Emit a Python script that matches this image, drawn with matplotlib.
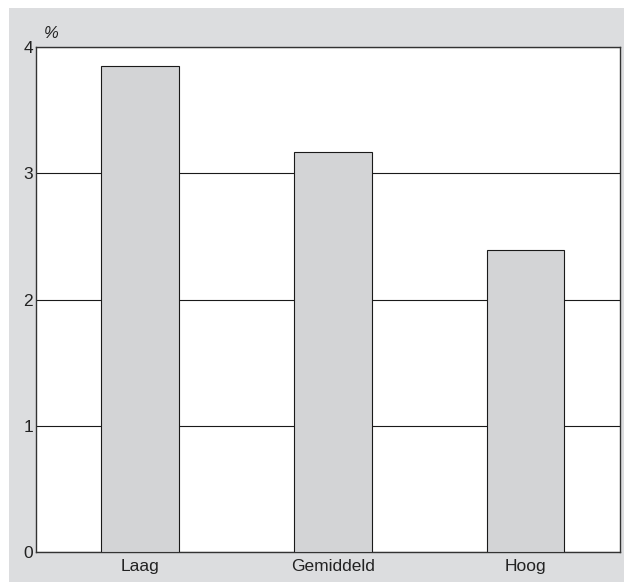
import matplotlib.pyplot as plt
from matplotlib.patches import Rectangle

plt.rcParams["font.family"] = ["Liberation Sans", "DejaVu Sans"]

# data
categories = ["Laag", "Gemiddeld", "Hoog"]
values = [3.85, 3.17, 2.39]
yticks = [0, 1, 2, 3, 4]

W, H = 624, 582
fig = plt.figure(figsize=(W / 100, H / 100), dpi=100)
fig.patch.set_facecolor("white")

# grey panel behind the chart
fig.patches.append(Rectangle((9 / W, 0), 1 - 9 / W, 1 - 8 / H, transform=fig.transFigure,
                             facecolor="#dcdddf", edgecolor="none", zorder=-10))

ax = fig.add_axes([36 / W, 1 - 552 / H, (620 - 36) / W, (552 - 47) / H])
ax.set_facecolor("white")

ax.bar(range(len(categories)), values, width=0.404, color="#d3d4d6",
       edgecolor="#1a1a1a", linewidth=0.8, zorder=3)

ax.set_xlim(-0.54, 2.49)
ax.set_ylim(0, 4)
ax.set_yticks(yticks)
ax.set_xticks(range(len(categories)))
ax.set_xticklabels(categories)
ax.tick_params(length=0, labelsize=12.5, colors="#222222", pad=5)
ax.tick_params(axis="y", pad=2)
ax.grid(axis="y", color="#1a1a1a", linewidth=0.8, zorder=0)
ax.set_axisbelow(True)
for s in ax.spines.values():
    s.set_color("#333333")
    s.set_linewidth(1.0)

fig.text(51 / W, 1 - 33 / H, "%", fontsize=12, style="italic", color="#222222",
         ha="center", va="center")

fig.savefig("out.png", dpi=100)
